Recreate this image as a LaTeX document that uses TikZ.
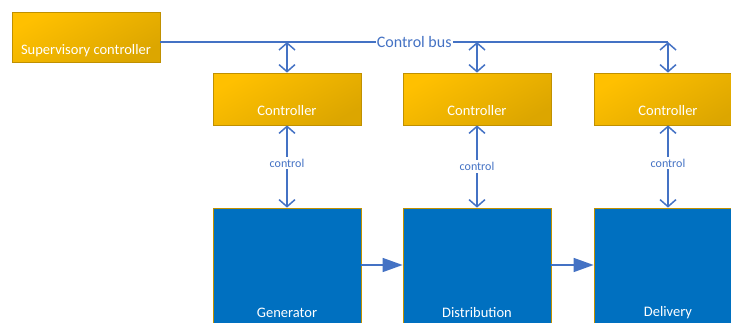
\documentclass[tikz,border=0pt]{standalone}
\usepackage{fontspec}
\setmainfont{Carlito}
\usetikzlibrary{arrows.meta}

\definecolor{gold}{HTML}{FFC000}
\definecolor{golddark}{HTML}{DCA600}
\definecolor{goldline}{HTML}{C09000}
\definecolor{procblue}{HTML}{0070C0}
\definecolor{linkblue}{HTML}{4472C4}

\tikzset{
  ctrlbox/.style={draw=goldline, line width=0.8pt, top color=gold, bottom color=golddark,
    shading angle=30, minimum width=148pt, minimum height=52pt, inner sep=0pt},
  procbox/.style={draw=goldline, line width=0.8pt, fill=procblue,
    minimum width=148pt, minimum height=140pt, inner sep=0pt},
  boxtext/.style={text=white, font=\fontsize{14.5}{16}\selectfont, inner sep=0pt},
  link/.style={draw=linkblue, line width=1.5pt},
  twoway/.style={link, {Straight Barb[length=7pt,width=16pt]}-{Straight Barb[length=7pt,width=16pt]}},
  flow/.style={link, -{Triangle[length=20pt,width=14pt]}},
  buslbl/.style={fill=white, text=linkblue, font=\fontsize{16}{18}\selectfont, inner sep=1pt},
  ctrllbl/.style={fill=white, text=linkblue, font=\fontsize{12}{14}\selectfont, inner sep=2pt}
}

\begin{document}
\begin{tikzpicture}[x=1pt, y=-1pt]
  \useasboundingbox (0,0) rectangle (731,322);
  \clip (0,0) rectangle (731,322);

  % supervisory level and the bus
  \node[ctrlbox, minimum height=50pt] (sup) at (86,37) {};
  \node[boxtext] (suptxt) at (86,51) {Supervisory controller};
  \coordinate (bus) at (668,42);
  \draw[link] (sup.east |- bus) -- node[buslbl] (buslbl) {Control bus} (bus);

  % one column for each stage
  \foreach \i/\cx/\proc/\lp in {1/287/Generator/0.46, 2/477/Distribution/0.5, 3/668/Delivery/0.46} {
    \node[ctrlbox] (ctrl\i) at (\cx,99) {};
    \node[boxtext] (ctrltxt\i) at (\cx,111) {Controller};
    \node[procbox] (proc\i) at (\cx,278) {};
    \node[boxtext] (proctxt\i) at (\cx,313) {\proc};
    \draw[twoway] (ctrl\i.north |- bus) -- (ctrl\i.north);
    \draw[twoway] (ctrl\i.south) -- node[ctrllbl, pos=\lp] (ctrllbl\i) {control} (proc\i.north);
  }

  % flow between the stages
  \draw[flow] ([yshift=13pt]proc1.east) -- ([yshift=13pt]proc2.west);
  \draw[flow] ([yshift=13pt]proc2.east) -- ([yshift=13pt]proc3.west);
\end{tikzpicture}
\end{document}
